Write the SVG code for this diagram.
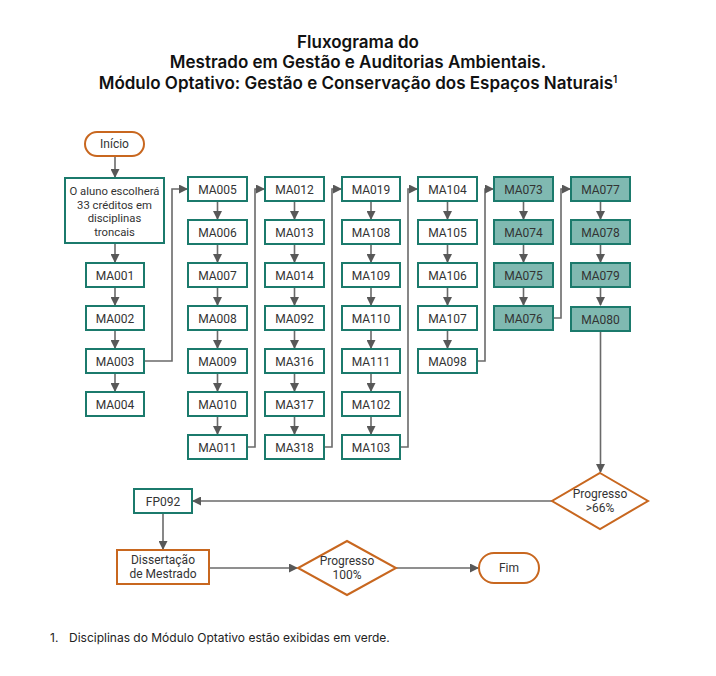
<svg xmlns="http://www.w3.org/2000/svg" width="716" height="676" viewBox="0 0 716 676">
<defs>
<marker id="ah" markerWidth="9" markerHeight="9" refX="8" refY="4.5" orient="auto" markerUnits="userSpaceOnUse">
<path d="M0,0 L9,4.5 L0,9 z" fill="#585858"/>
</marker>
<style>
.b{fill:#fff;stroke:#1b7a6c;stroke-width:2}
.g{fill:#80b9b1;stroke:#1b7a6c;stroke-width:2}
.o{fill:#fff;stroke:#c8671f;stroke-width:2}
.t{font-family:Roboto,"Liberation Sans",sans-serif;font-size:12px;fill:#333;text-anchor:middle}
.s{font-size:11.3px}
.c{fill:none;stroke:#6a6a6a;stroke-width:1.6;marker-end:url(#ah)}
.h{font-family:Inter,"Liberation Sans",sans-serif;font-size:17px;font-weight:600;fill:#111;text-anchor:middle}
.f{font-family:Inter,"Liberation Sans",sans-serif;font-size:12px;fill:#222}
</style>
</defs>
<rect width="716" height="676" fill="#fff"/>
<g id="title">
<text class="h" x="358" y="48">Fluxograma do</text>
<text class="h" x="358" y="68">Mestrado em Gestão e Auditorias Ambientais.</text>
<text class="h" x="358" y="89">Módulo Optativo: Gestão e Conservação dos Espaços Naturais<tspan font-size="10" dy="-6">1</tspan></text>
</g>
<g id="connectors">
<path class="c" d="M115,156 V177"/>
<path class="c" d="M115,243 V262"/>
<path class="c" d="M115,287 V305"/>
<path class="c" d="M115,330 V348"/>
<path class="c" d="M115,373 V391"/>
<path class="c" d="M144,361 H172 V189 H187"/>
<path class="c" d="M217.5,201 V219"/>
<path class="c" d="M217.5,244 V262"/>
<path class="c" d="M217.5,287 V305"/>
<path class="c" d="M217.5,330 V348"/>
<path class="c" d="M217.5,373 V391"/>
<path class="c" d="M217.5,416 V434"/>
<path class="c" d="M247,447 H255 V189 H264"/>
<path class="c" d="M294.5,201 V219"/>
<path class="c" d="M294.5,244 V262"/>
<path class="c" d="M294.5,287 V305"/>
<path class="c" d="M294.5,330 V348"/>
<path class="c" d="M294.5,373 V391"/>
<path class="c" d="M294.5,416 V434"/>
<path class="c" d="M324,447 H332 V189 H341"/>
<path class="c" d="M371,201 V219"/>
<path class="c" d="M371,244 V262"/>
<path class="c" d="M371,287 V305"/>
<path class="c" d="M371,330 V348"/>
<path class="c" d="M371,373 V391"/>
<path class="c" d="M371,416 V434"/>
<path class="c" d="M400,447 H408 V189 H417"/>
<path class="c" d="M447.5,201 V219"/>
<path class="c" d="M447.5,244 V262"/>
<path class="c" d="M447.5,287 V305"/>
<path class="c" d="M447.5,330 V348"/>
<path class="c" d="M477,361 H485 V189 H493"/>
<path class="c" d="M523.5,201 V219"/>
<path class="c" d="M523.5,244 V262"/>
<path class="c" d="M523.5,287 V305"/>
<path class="c" d="M553,318 H561 V189 H570"/>
<path class="c" d="M600.5,201 V219"/>
<path class="c" d="M600.5,244 V262"/>
<path class="c" d="M600.5,287 V305"/>
<path class="c" d="M600.5,331 V472"/>
<path class="c" d="M552,501 H193"/>
<path class="c" d="M163,513 V549"/>
<path class="c" d="M209,568 H297"/>
<path class="c" d="M396,568 H478"/>
</g>
<g id="inicio"><rect class="o" x="85" y="132" width="59" height="24" rx="12"/><text class="t" x="114.5" y="148">Início</text></g>
<g id="escolha"><rect class="b" x="65" y="178" width="99" height="65"/>
<text class="t s" x="114.5" y="195">O aluno escolherá</text>
<text class="t s" x="114.5" y="208.5">33 créditos em</text>
<text class="t s" x="114.5" y="222">disciplinas</text>
<text class="t s" x="114.5" y="235.5">troncais</text></g>
<g id="MA001"><rect class="b" x="86" y="263" width="58" height="24"/><text class="t" x="115" y="279.5">MA001</text></g>
<g id="MA002"><rect class="b" x="86" y="306" width="58" height="24"/><text class="t" x="115" y="322.5">MA002</text></g>
<g id="MA003"><rect class="b" x="86" y="349" width="58" height="24"/><text class="t" x="115" y="365.5">MA003</text></g>
<g id="MA004"><rect class="b" x="86" y="392" width="58" height="24"/><text class="t" x="115" y="408.5">MA004</text></g>

<g id="MA005"><rect class="b" x="188" y="177" width="59" height="24"/><text class="t" x="217.5" y="193.5">MA005</text></g>
<g id="MA006"><rect class="b" x="188" y="220" width="59" height="24"/><text class="t" x="217.5" y="236.5">MA006</text></g>
<g id="MA007"><rect class="b" x="188" y="263" width="59" height="24"/><text class="t" x="217.5" y="279.5">MA007</text></g>
<g id="MA008"><rect class="b" x="188" y="306" width="59" height="24"/><text class="t" x="217.5" y="322.5">MA008</text></g>
<g id="MA009"><rect class="b" x="188" y="349" width="59" height="24"/><text class="t" x="217.5" y="365.5">MA009</text></g>
<g id="MA010"><rect class="b" x="188" y="392" width="59" height="24"/><text class="t" x="217.5" y="408.5">MA010</text></g>
<g id="MA011"><rect class="b" x="188" y="435" width="59" height="24"/><text class="t" x="217.5" y="451.5">MA011</text></g>

<g id="MA012"><rect class="b" x="265" y="177" width="59" height="24"/><text class="t" x="294.5" y="193.5">MA012</text></g>
<g id="MA013"><rect class="b" x="265" y="220" width="59" height="24"/><text class="t" x="294.5" y="236.5">MA013</text></g>
<g id="MA014"><rect class="b" x="265" y="263" width="59" height="24"/><text class="t" x="294.5" y="279.5">MA014</text></g>
<g id="MA092"><rect class="b" x="265" y="306" width="59" height="24"/><text class="t" x="294.5" y="322.5">MA092</text></g>
<g id="MA316"><rect class="b" x="265" y="349" width="59" height="24"/><text class="t" x="294.5" y="365.5">MA316</text></g>
<g id="MA317"><rect class="b" x="265" y="392" width="59" height="24"/><text class="t" x="294.5" y="408.5">MA317</text></g>
<g id="MA318"><rect class="b" x="265" y="435" width="59" height="24"/><text class="t" x="294.5" y="451.5">MA318</text></g>

<g id="MA019"><rect class="b" x="342" y="177" width="58" height="24"/><text class="t" x="371" y="193.5">MA019</text></g>
<g id="MA108"><rect class="b" x="342" y="220" width="58" height="24"/><text class="t" x="371" y="236.5">MA108</text></g>
<g id="MA109"><rect class="b" x="342" y="263" width="58" height="24"/><text class="t" x="371" y="279.5">MA109</text></g>
<g id="MA110"><rect class="b" x="342" y="306" width="58" height="24"/><text class="t" x="371" y="322.5">MA110</text></g>
<g id="MA111"><rect class="b" x="342" y="349" width="58" height="24"/><text class="t" x="371" y="365.5">MA111</text></g>
<g id="MA102"><rect class="b" x="342" y="392" width="58" height="24"/><text class="t" x="371" y="408.5">MA102</text></g>
<g id="MA103"><rect class="b" x="342" y="435" width="58" height="24"/><text class="t" x="371" y="451.5">MA103</text></g>

<g id="MA104"><rect class="b" x="418" y="177" width="59" height="24"/><text class="t" x="447.5" y="193.5">MA104</text></g>
<g id="MA105"><rect class="b" x="418" y="220" width="59" height="24"/><text class="t" x="447.5" y="236.5">MA105</text></g>
<g id="MA106"><rect class="b" x="418" y="263" width="59" height="24"/><text class="t" x="447.5" y="279.5">MA106</text></g>
<g id="MA107"><rect class="b" x="418" y="306" width="59" height="24"/><text class="t" x="447.5" y="322.5">MA107</text></g>
<g id="MA098"><rect class="b" x="418" y="349" width="59" height="24"/><text class="t" x="447.5" y="365.5">MA098</text></g>

<g id="MA073"><rect class="g" x="494" y="177" width="59" height="24"/><text class="t" x="523.5" y="193.5">MA073</text></g>
<g id="MA074"><rect class="g" x="494" y="220" width="59" height="24"/><text class="t" x="523.5" y="236.5">MA074</text></g>
<g id="MA075"><rect class="g" x="494" y="263" width="59" height="24"/><text class="t" x="523.5" y="279.5">MA075</text></g>
<g id="MA076"><rect class="g" x="494" y="306" width="59" height="24"/><text class="t" x="523.5" y="322.5">MA076</text></g>

<g id="MA077"><rect class="g" x="571" y="177" width="59" height="24"/><text class="t" x="600.5" y="193.5">MA077</text></g>
<g id="MA078"><rect class="g" x="571" y="220" width="59" height="24"/><text class="t" x="600.5" y="236.5">MA078</text></g>
<g id="MA079"><rect class="g" x="571" y="263" width="59" height="24"/><text class="t" x="600.5" y="279.5">MA079</text></g>
<g id="MA080"><rect class="g" x="571" y="307" width="59" height="24"/><text class="t" x="600.5" y="323.5">MA080</text></g>

<g id="prog66"><polygon class="o" points="600,473 648,501 600,529 552,501"/>
<text class="t" x="600" y="498">Progresso</text><text class="t" x="600" y="512">&gt;66%</text></g>
<g id="FP092"><rect class="b" x="134" y="489" width="58" height="24"/><text class="t" x="163" y="505.5">FP092</text></g>
<g id="dissertacao"><rect class="o" x="117" y="550" width="92" height="34"/>
<text class="t" x="163" y="564">Dissertação</text><text class="t" x="163" y="578">de Mestrado</text></g>
<g id="prog100"><polygon class="o" points="347,541 396,568 347,595 298,568"/>
<text class="t" x="347" y="565">Progresso</text><text class="t" x="347" y="579">100%</text></g>
<g id="fim"><rect class="o" x="479" y="553" width="60" height="30" rx="15"/><text class="t" x="509" y="572">Fim</text></g>
<g id="footnote">
<text class="f" x="50" y="642">1.</text>
<text class="f" x="69" y="642">Disciplinas do Módulo Optativo estão exibidas em verde.</text>
</g>
</svg>
